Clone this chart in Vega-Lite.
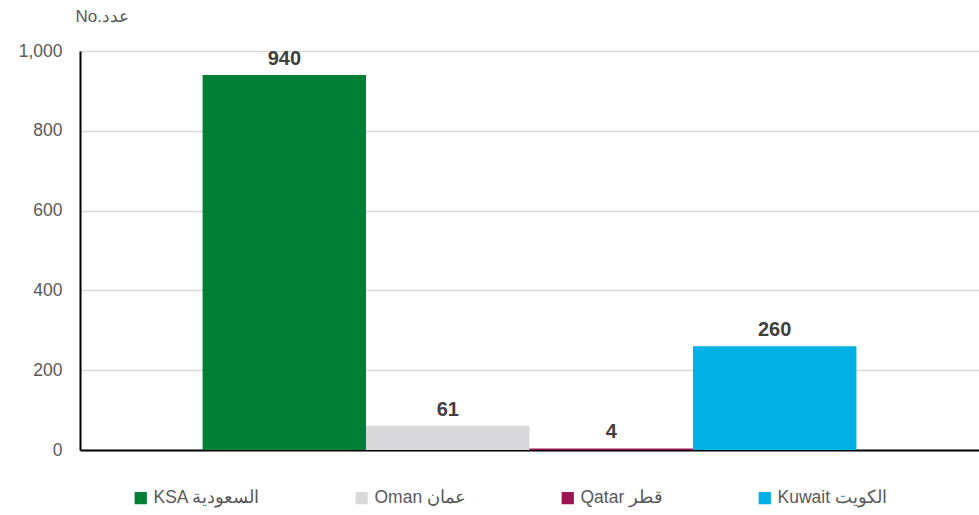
{
  "$schema": "https://vega.github.io/schema/vega-lite/v6.json",
  "autosize": {"type": "none"},
  "width": 899,
  "height": 399,
  "padding": {"left": 80, "top": 51, "right": 0, "bottom": 65},
  "background": "white",
  "config": {"view": {"stroke": null}, "font": "Liberation Sans"},
  "data": {
    "values": [
      {"country": "KSA السعودية", "value": 940},
      {"country": "Oman عمان", "value": 61},
      {"country": "Qatar قطر", "value": 4},
      {"country": "Kuwait الكويت", "value": 260}
    ]
  },
  "encoding": {
    "x": {
      "field": "country",
      "type": "nominal",
      "sort": null,
      "scale": {"paddingInner": 0, "paddingOuter": 0.75},
      "axis": {"labels": false, "ticks": false, "title": null, "domainColor": "#000000", "domainWidth": 2}
    },
    "y": {
      "field": "value",
      "type": "quantitative",
      "scale": {"domain": [0, 1000], "nice": false},
      "axis": {
        "values": [0, 200, 400, 600, 800, 1000],
        "format": ",.0f",
        "ticks": false,
        "labelPadding": 18,
        "labelFontSize": 17.5,
        "labelColor": "#595959",
        "gridColor": "#D9D9D9",
        "gridWidth": 1.5,
        "domainColor": "#000000",
        "domainWidth": 2,
        "title": "No.عدد",
        "titleAngle": 0,
        "titleAlign": "left",
        "titleBaseline": "middle",
        "titleX": -5,
        "titleY": -35,
        "titleFontSize": 17,
        "titleFontWeight": "normal",
        "titleColor": "#595959"
      }
    }
  },
  "layer": [
    {
      "mark": {"type": "bar"},
      "encoding": {
        "color": {
          "field": "country",
          "type": "nominal",
          "sort": null,
          "scale": {"range": ["#008037", "#D9D9DB", "#9C1550", "#00B1E6"]},
          "legend": {
            "title": null,
            "orient": "none",
            "direction": "horizontal",
            "legendX": 52,
            "legendY": 438,
            "symbolType": "square",
            "symbolSize": 150,
            "symbolStrokeWidth": 0,
            "symbolOpacity": 1,
            "labelFontSize": 17.5,
            "labelColor": "#595959",
            "columnPadding": 92,
            "labelOffset": 4
          }
        }
      }
    },
    {
      "mark": {"type": "text", "baseline": "bottom", "dy": -6, "fontWeight": "bold", "fontSize": 20, "color": "#404040"},
      "encoding": {"text": {"field": "value", "type": "quantitative"}}
    }
  ]
}
